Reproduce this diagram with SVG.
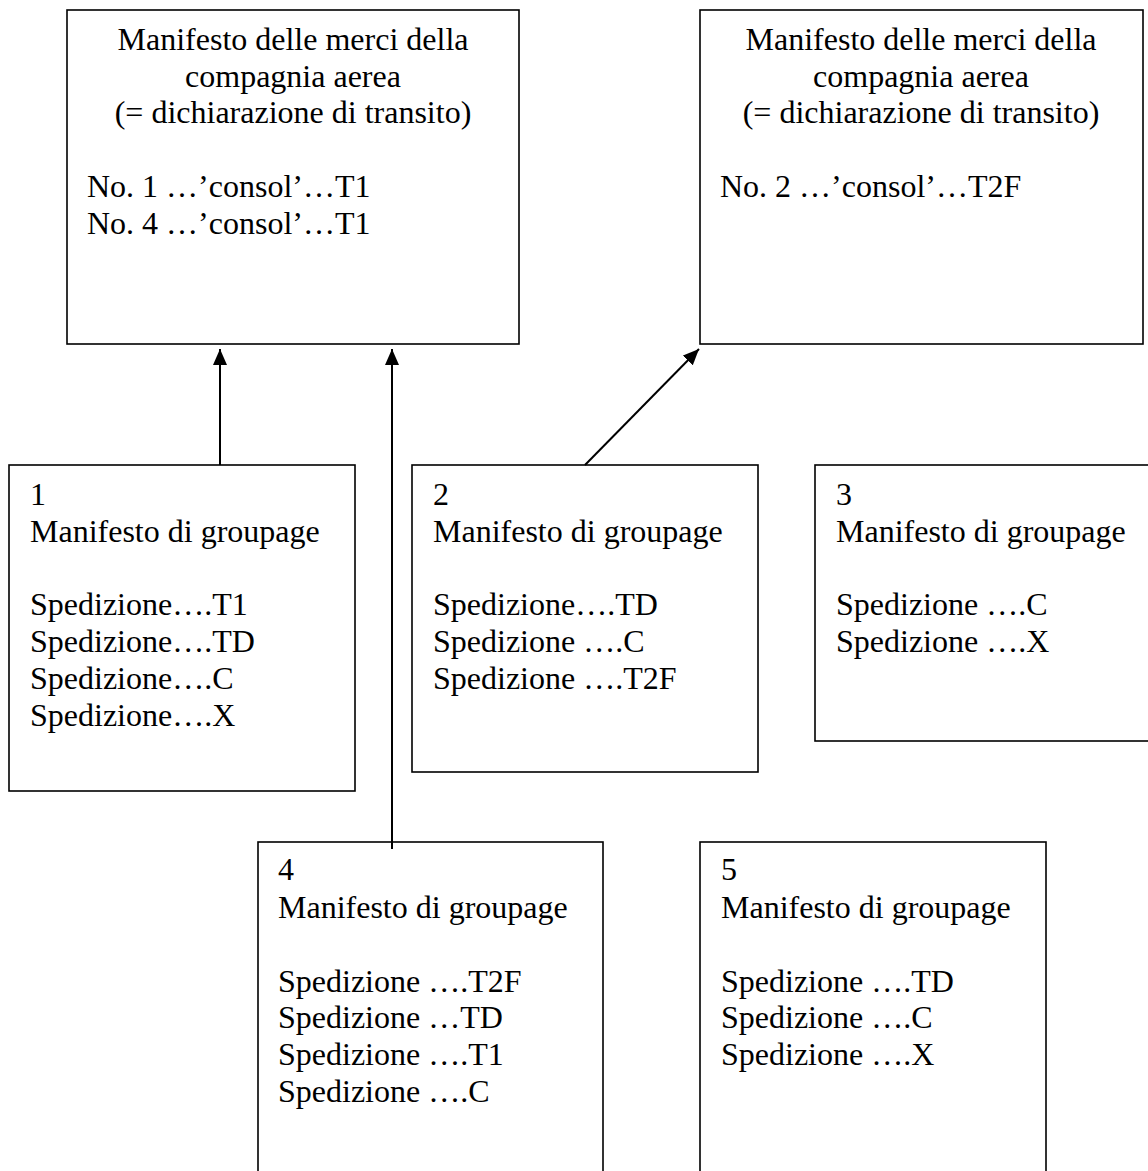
<svg xmlns="http://www.w3.org/2000/svg" width="1148" height="1171" viewBox="0 0 1148 1171">
  <style>
    .box { fill: #ffffff; stroke: #000000; stroke-width: 1.6; }
    .txt { font-family: "Liberation Serif", "Times New Roman", serif; font-size: 32px; fill: #000000; }
    .mid { text-anchor: middle; }
    .link { fill: none; stroke: #000000; stroke-width: 2; marker-end: url(#head); }
  </style>
  <defs>
    <marker id="head" markerUnits="userSpaceOnUse" markerWidth="16" markerHeight="14" refX="16" refY="7" orient="auto">
      <path d="M0,0 L16,7 L0,14 z" fill="#000000"/>
    </marker>
  </defs>
  <rect width="1148" height="1171" fill="#ffffff"/>

  <!-- airline cargo manifest, consolidations 1 and 4 -->
  <g id="manifest-a">
    <rect class="box" x="67" y="10" width="452" height="334"/>
    <text class="txt mid" x="293" y="50">Manifesto delle merci della</text>
    <text class="txt mid" x="293" y="87">compagnia aerea</text>
    <text class="txt mid" x="293" y="123">(= dichiarazione di transito)</text>
    <text class="txt" x="87" y="197">No. 1 …’consol’…T1</text>
    <text class="txt" x="87" y="234">No. 4 …’consol’…T1</text>
  </g>

  <!-- airline cargo manifest, consolidation 2 -->
  <g id="manifest-b">
    <rect class="box" x="700" y="10" width="443" height="334"/>
    <text class="txt mid" x="921" y="50">Manifesto delle merci della</text>
    <text class="txt mid" x="921" y="87">compagnia aerea</text>
    <text class="txt mid" x="921" y="123">(= dichiarazione di transito)</text>
    <text class="txt" x="720" y="197">No. 2 …’consol’…T2F</text>
  </g>

  <!-- groupage manifests -->
  <g id="groupage-1">
    <rect class="box" x="9" y="465" width="346" height="326"/>
    <text class="txt" x="30" y="505">1</text>
    <text class="txt" x="30" y="542">Manifesto di groupage</text>
    <text class="txt" x="30" y="615">Spedizione….T1</text>
    <text class="txt" x="30" y="652">Spedizione….TD</text>
    <text class="txt" x="30" y="689">Spedizione….C</text>
    <text class="txt" x="30" y="726">Spedizione….X</text>
  </g>

  <g id="groupage-2">
    <rect class="box" x="412" y="465" width="346" height="307"/>
    <text class="txt" x="433" y="505">2</text>
    <text class="txt" x="433" y="542">Manifesto di groupage</text>
    <text class="txt" x="433" y="615">Spedizione….TD</text>
    <text class="txt" x="433" y="652">Spedizione ….C</text>
    <text class="txt" x="433" y="689">Spedizione ….T2F</text>
  </g>

  <g id="groupage-3">
    <rect class="box" x="815" y="465" width="345" height="276"/>
    <text class="txt" x="836" y="505">3</text>
    <text class="txt" x="836" y="542">Manifesto di groupage</text>
    <text class="txt" x="836" y="615">Spedizione ….C</text>
    <text class="txt" x="836" y="652">Spedizione ….X</text>
  </g>

  <g id="groupage-4">
    <rect class="box" x="258" y="842" width="345" height="340"/>
    <text class="txt" x="278" y="880">4</text>
    <text class="txt" x="278" y="918">Manifesto di groupage</text>
    <text class="txt" x="278" y="992">Spedizione ….T2F</text>
    <text class="txt" x="278" y="1028">Spedizione …TD</text>
    <text class="txt" x="278" y="1065">Spedizione ….T1</text>
    <text class="txt" x="278" y="1102">Spedizione ….C</text>
  </g>

  <g id="groupage-5">
    <rect class="box" x="700" y="842" width="346" height="340"/>
    <text class="txt" x="721" y="880">5</text>
    <text class="txt" x="721" y="918">Manifesto di groupage</text>
    <text class="txt" x="721" y="992">Spedizione ….TD</text>
    <text class="txt" x="721" y="1028">Spedizione ….C</text>
    <text class="txt" x="721" y="1065">Spedizione ….X</text>
  </g>

  <!-- connectors from groupage manifests to airline manifests -->
  <g id="connectors">
    <line class="link" x1="220" y1="465" x2="220" y2="349"/>
    <line class="link" x1="392" y1="849" x2="392" y2="349"/>
    <line class="link" x1="585" y1="465" x2="699" y2="349"/>
  </g>
</svg>
